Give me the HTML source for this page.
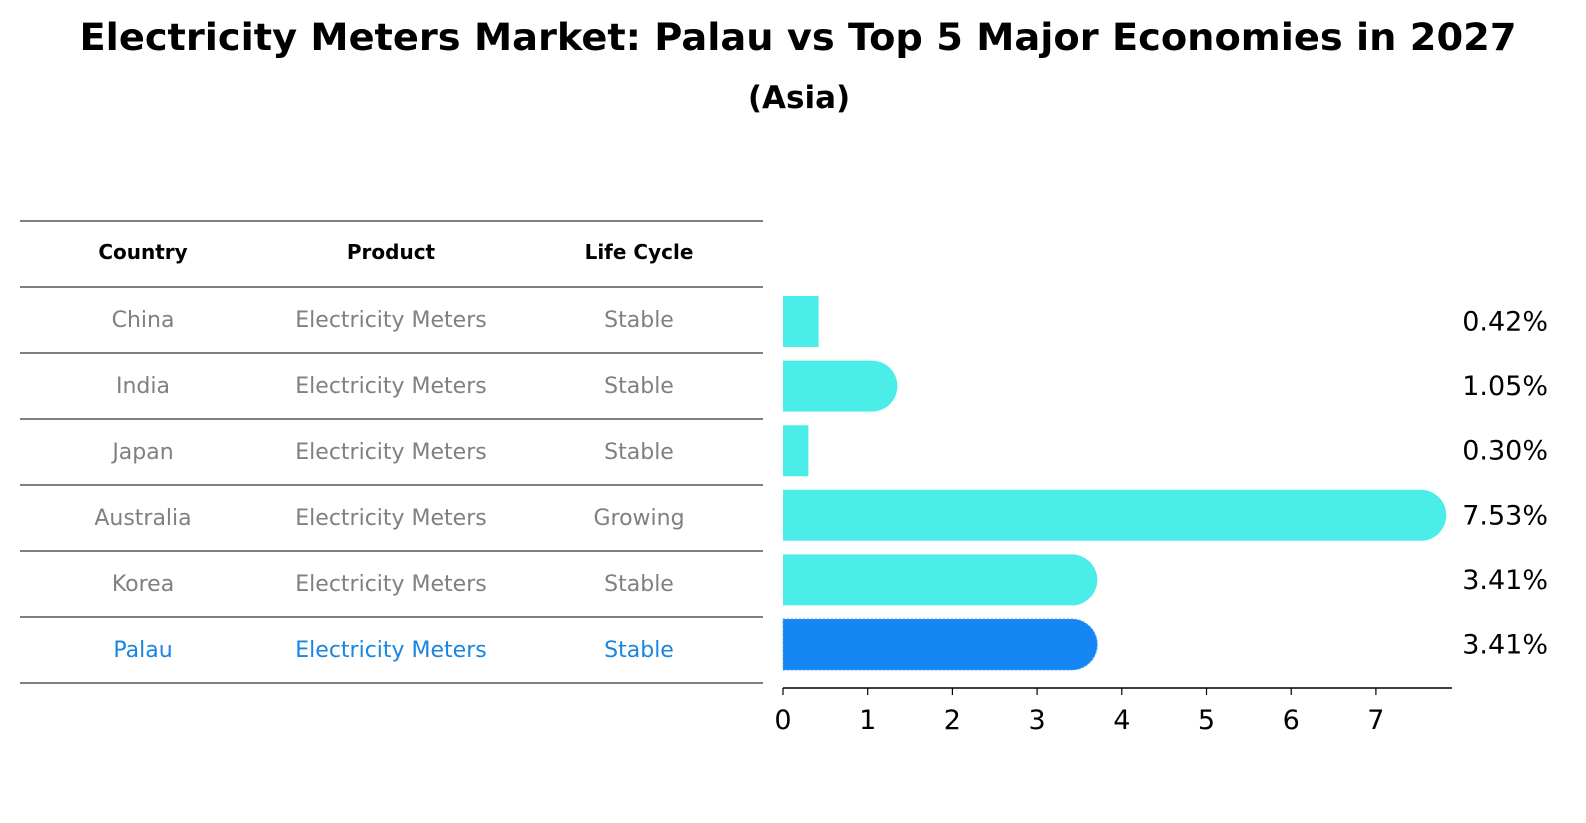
<!DOCTYPE html>
<html><head><meta charset="utf-8"><style>
body{margin:0;background:#fff;font-family:"DejaVu Sans","Liberation Sans",sans-serif;}
#wrap{position:relative;width:1586px;height:823px;overflow:hidden;}
</style></head><body>
<div id="wrap">
<svg id="svg" width="1586" height="823">
<text x="798" y="50" text-anchor="middle" font-size="37" font-weight="bold" textLength="1437" lengthAdjust="spacingAndGlyphs">Electricity Meters Market: Palau vs Top 5 Major Economies in 2027</text>
<text x="799" y="108" text-anchor="middle" font-size="31" font-weight="bold">(Asia)</text>
<g id="table"></g>
<g id="bars"></g>
</svg>
</div>
<script>
const countries=["China","India","Japan","Australia","Korea","Palau"];
const products=["Electricity Meters","Electricity Meters","Electricity Meters","Electricity Meters","Electricity Meters","Electricity Meters"];
const lifecycles=["Stable","Stable","Stable","Growing","Stable","Stable"];
const values=[0.42,1.05,0.30,7.53,3.41,3.41];
const valueLabels=["0.42%","1.05%","0.30%","7.53%","3.41%","3.41%"];
const ticks=[0,1,2,3,4,5,6,7];
const NS="http://www.w3.org/2000/svg";
function mk(t,a,p,txt){const e=document.createElementNS(NS,t);for(const k in a)e.setAttribute(k,a[k]);if(txt!=null)e.textContent=txt;p.appendChild(e);return e;}
const x0=783,ppu=84.7;const xs=v=>x0+v*ppu;
const rowY=i=>321.5+i*64.6;
const tb=document.getElementById('table');
const lineYs=[221,287];for(let i=0;i<countries.length;i++)lineYs.push(287+(i+1)*66);
lineYs.forEach((y,i)=>{const l=mk('line',{x1:20,x2:763,y1:y,y2:y,stroke:'#000','stroke-width':1},tb);

});
const cols=[143,391,639];
["Country","Product","Life Cycle"].forEach((h,j)=>{const t=mk('text',{x:cols[j],y:259,'text-anchor':'middle','font-size':20,'font-weight':'bold'},tb,h);

});
countries.forEach((c,i)=>{const y=319+i*66+8;const col=i===countries.length-1?'#1a85e0':'#808080';
[c,products[i],lifecycles[i]].forEach((v,j)=>{const t=mk('text',{x:cols[j],y:y,'text-anchor':'middle','font-size':22,fill:col},tb,v);

});});
const bg=document.getElementById('bars');
const h=51,r=25.5;
values.forEach((v,i)=>{const cy=rowY(i),top=cy-h/2,xe=xs(v);
const col=i===values.length-1?'#1786f5':'#4aede8';
let d;
if(v>=1){d=`M${x0},${top}H${xe}A${r},${r} 0 0 1 ${xe},${top+h}H${x0}Z`;}
else d=`M${x0},${top}H${xe}V${top+h}H${x0}Z`;
const p=mk('path',{d:d,fill:col},bg);
if(i===values.length-1){p.setAttribute('stroke','#4aa8ee');p.setAttribute('stroke-dasharray','2 2');p.setAttribute('stroke-width','1');}


const t=mk('text',{x:1548,y:cy+9,'text-anchor':'end','font-size':27},bg,valueLabels[i]);


});
const ax=mk('line',{x1:x0,x2:1452,y1:688,y2:688,stroke:'#000','stroke-width':1.5},bg);


ticks.forEach(t=>{const tl=mk('line',{x1:xs(t),x2:xs(t),y1:688,y2:695,stroke:'#000','stroke-width':1.2},bg);


const tx=mk('text',{x:xs(t),y:729,'text-anchor':'middle','font-size':27},bg,String(t));

});
</script>
</body></html>
